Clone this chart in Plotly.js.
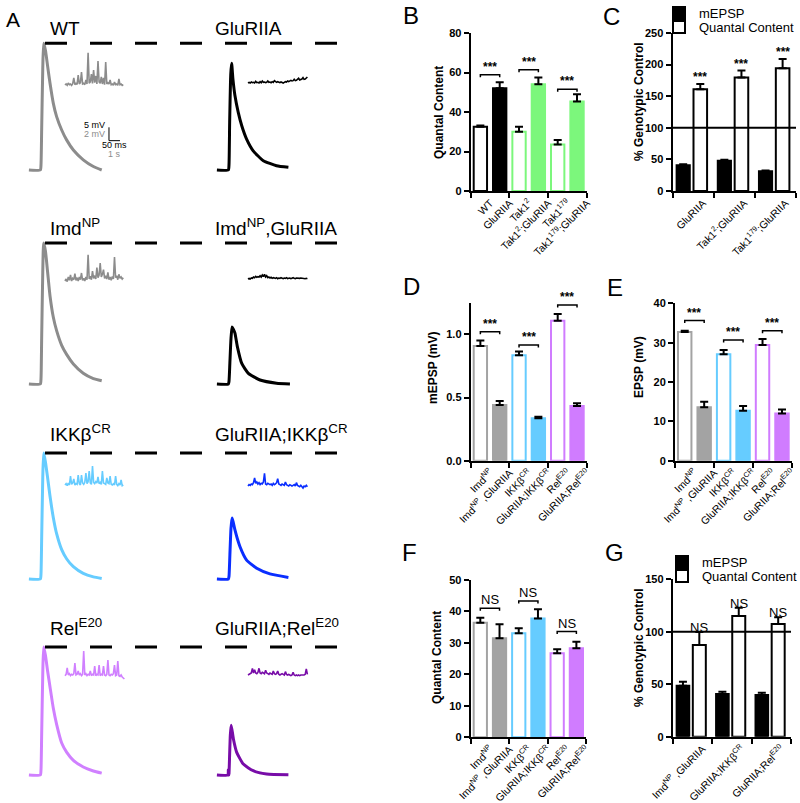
<!DOCTYPE html>
<html><head><meta charset="utf-8">
<script src="https://cdn.plot.ly/plotly-3.0.1.min.js"></script>
<style>html,body{margin:0;padding:0;background:#fff}#chart{width:800px;height:803px}</style>
</head><body><div id="chart"></div>
<script>
// ================= DATA =================
// Panel A – evoked EPSPs (time in ms after stimulus, depolarisation in mV)
const wtEpspT      = [-55,-3,0,3,8,12,20,30,41,56,71,94,117,147,192,238,276];
const wtEpspV      = [0,0,2,15,38,47.5,45,39,32.5,25,20,15,11.2,7.5,3.8,1.3,0];
const glurEpspT    = [-55,-3,0,3,8,12,18,27,42,58,80,110,156,216,270];
const glurEpspV    = [0,0,2,18,36,40,34,27.9,21.6,16.6,11.6,7.2,3.5,1.6,1.0];
const imdEpspT     = [-55,-3,0,3,8,12,20,30,41,56,71,94,117,147,192,238,276];
const imdEpspV     = [0,0,2,17,42,52.9,50,42,33,25,20,14.5,11,7.5,4,2,1.2];
const imdGlurEpspT = [-55,-3,0,4,9,14,20,27,38,58,88,141,216,277];
const imdGlurEpspV = [0,0,1,8,17,21.4,20.5,19.1,14,7.7,4,1.5,0.3,0];
const ikkEpspT     = [-55,-3,0,3,8,12,20,30,41,56,71,94,117,147,192,238,276];
const ikkEpspV     = [0,0,2,15,38,47.2,44,38,31,23,17,11,7.5,4.6,2.1,0.8,0.2];
const glurIkkEpspT = [-55,-3,0,4,9,14,20,27,50,80,126,186,270];
const glurIkkEpspV = [0,0,1,9,19,22.9,21,18.4,12.1,7.1,4,1.9,0.6];
const relEpspT     = [-55,-3,0,3,8,12,20,30,41,56,71,94,117,147,192,238,276];
const relEpspV     = [0,0,2,15,38,48,45,39,33,25,19,12,8.5,5.5,3,1.5,0.7];
const glurRelEpspT = [-55,-5,-3,-1,0,3,6,10,20,35,65,110,171,270];
const glurRelEpspV = [0,0,2,0,0.5,8,15,18.7,13.5,8.5,4.1,1.6,0.4,0.1];

// Panel A – spontaneous mEPSP recordings (mV, one sample every 0.1 s)
const wtMini      = [0.15,0.3,0.1,0.45,0.2,0.3,0.1,0.35,1.2,0.2,0.4,0.25,1.65,0.3,0.5,2.1,0.3,0.4,0.2,0.9,0.3,5.0,0.4,0.6,1.8,0.4,2.4,0.5,1.5,0.3,3.75,0.6,0.4,1.35,0.3,1.2,0.2,3.6,0.3,0.5,0.3,0.9,0.2,0.3,0.1,0.6,0.2,0.3,0.1,1.05,0.2,0.3,0.1,0.2];
const glurMini    = [0,0.1,0,0.15,0.05,0.1,0.0,0.25,0.05,0.1,0.0,0.2,0.05,0.3,0.1,0.15,0.05,0.1,0.3,0.1,0.15,0.05,0.2,0.1,0.35,0.15,0.1,0.2,0.1,0.05,0.15,0.1,0.0,0.1,0.2,0.15,0.3,0.2,0.25,0.4,0.3,0.35,0.55,0.35,0.4,0.5,0.7,0.45,0.5,0.6,0.8,0.55,0.6,0.7,0.9];
const imdMini     = [0.3,0.6,0.2,0.9,0.4,1.2,0.3,0.7,0.5,1.4,0.4,0.8,0.3,0.9,0.5,1.5,0.4,0.7,0.3,0.9,0.5,4.25,0.6,1.0,0.5,1.8,0.7,1.1,0.6,2.3,0.8,1.2,3.0,0.9,1.3,2.0,0.7,1.1,0.6,1.6,0.5,0.9,0.4,1.0,0.6,3.9,0.8,1.1,0.5,1.3,0.7,0.9,0.6,0.8];
const imdGlurMini = [0,0.1,0,0.15,0.1,0.3,0.2,0.4,0.25,0.35,0.3,0.5,0.3,0.6,0.35,0.7,0.3,0.5,0.2,0.3,0.15,0.25,0.1,0.2,0.15,0.1,0.2,0.05,0.15,0.1,0.2,0.1,0.05,0.15,0.1,0.2,0.05,0.1,0.15,0.05,0.1,0.2,0.1,0.05,0.15,0.1,0.05,0.1,0.15,0.1,0.05,0.1,0.05,0.1,0.05];
const ikkMini     = [0.3,0.5,0.2,0.6,0.3,1.65,0.4,0.6,1.2,0.3,0.5,0.4,1.8,0.5,0.3,1.8,0.6,0.4,0.7,2.1,0.5,0.8,2.4,0.6,0.4,3.15,0.7,0.5,0.8,0.6,1.5,0.5,0.7,0.4,2.4,0.6,0.5,0.4,1.35,0.6,0.5,1.65,0.4,0.3,0.5,0.3,1.65,0.4,0.2,0.5,0.3,1.05,0.2,0.3];
const glurIkkMini = [0,0.2,0.1,0.3,0.2,0.5,1.2,0.4,0.6,0.3,0.5,0.2,0.4,0.3,0.6,1.9,0.3,0.2,0.4,0.3,0.2,0.3,0.1,0.4,0.2,0.3,0.5,1.1,0.3,0.2,0.1,0.3,0.2,0.1,0.6,0.2,0.1,0.0,0.2,0.1,0.0,0.1,0.2,0.0,0.5,0.1,0.0,-0.1,0.1,-0.2,-0.3,0.0,-0.1,0.1,-0.1];
const relMini     = [0.2,0.4,1.35,0.3,0.5,0.2,0.4,0.3,0.5,2.1,0.3,0.4,0.9,0.3,0.5,0.2,0.4,3.9,0.3,0.5,0.2,0.4,0.3,0.9,0.2,0.4,0.3,1.65,0.2,0.4,0.3,1.8,0.2,0.4,0.3,1.65,0.3,0.2,0.4,2.55,0.3,0.2,0.4,0.3,0.5,1.8,0.2,0.3,2.4,0.2,0.1,0.3,0.0,-0.2,-0.3];
const glurRelMini = [0,0.1,0.2,0.3,1.0,0.3,0.8,0.3,0.2,0.4,1.0,0.3,0.2,0.4,0.3,0.2,0.7,0.3,0.2,0.1,0.3,0.2,0.1,0.6,0.2,0.1,0.2,0.6,0.1,0.0,0.1,0.2,0.1,0.0,0.5,0.1,0.0,0.1,0.0,-0.1,0.0,0.4,0.0,-0.1,0.0,-0.1,0.0,-0.1,0.0,0.0,-0.1,0.0,0.1,0.9,0.1];

const traceLabels = ['WT','GluRIIA','Imd<sup>NP</sup>','Imd<sup>NP</sup>,GluRIIA','IKKβ<sup>CR</sup>','GluRIIA;IKKβ<sup>CR</sup>','Rel<sup>E20</sup>','GluRIIA;Rel<sup>E20</sup>'];
// scale bar: 5 mV / 50 ms (evoked) and 2 mV / 1 s (minis)
const scaleBarT = [309,309,359];
const scaleBarV = [16,11,11];

// Panel B – quantal content
const catsB   = ['WT','GluRIIA','Tak1<sup>2</sup>','Tak1<sup>2</sup>;GluRIIA','Tak1<sup>179</sup>','Tak1<sup>179</sup>;GluRIIA'];
const qcB     = [32.5,52.0,30.0,54.1,23.6,45.3];
const qcBErr  = [0.7,3.1,2.5,3.4,2.2,3.7];
const sigBY   = [58.8,61.4,51.5];

// Panel C – % genotypic control
const catsC    = ['GluRIIA','Tak1<sup>2</sup>;GluRIIA','Tak1<sup>179</sup>;GluRIIA'];
const mepspC   = [40.8,47.7,31.3];
const mepspCErr= [1.6,1.6,1.0];
const qcC      = [161,179.6,194.4];
const qcCErr   = [8.5,11,14.3];

// Panels D–F – NF-kB pathway genotypes
const catsDEF  = ['Imd<sup>NP</sup>','Imd<sup>NP</sup> ,GluRIIA','IKKβ<sup>CR</sup>','GluRIIA;IKKβ<sup>CR</sup>','Rel<sup>E20</sup>','GluRIIA;Rel<sup>E20</sup>'];
const mepspD   = [0.908,0.44,0.834,0.335,1.108,0.433];
const mepspDErr= [0.042,0.032,0.029,0.013,0.053,0.021];
const sigDY    = [1.021,0.916,1.232];
const epspE    = [32.7,13.56,27.03,12.7,29.4,12.0];
const epspEErr = [0.35,1.44,1.1,1.2,1.5,1.0];
const sigEY    = [35.6,30.7,33.0];
const qcF      = [36.4,31.5,33.05,37.8,26.7,28.3];
const qcFErr   = [1.6,4.4,1.6,2.9,1.3,2.1];
const sigFY    = [41.0,43.3,33.6];

// Panel G – % genotypic control
const catsG    = ['Imd<sup>NP</sup> ,GluRIIA','GluRIIA;IKKβ<sup>CR</sup>','GluRIIA;Rel<sup>E20</sup>'];
const mepspG   = [48.6,40.7,39.7];
const mepspGErr= [3.8,2.2,2.2];
const qcG      = [87.4,115,107.4];
const qcGErr   = [12.4,8,6.4];

// ================= STYLE / LAYOUT =================
const W=800,H=803;
const FONT='"Liberation Sans", Arial, sans-serif';
const GRAY='#A3A3A3', GREEN='#7CF77C', CYAN='#66CCFF', VIOLET='#D07CFF';
const traces=[];
function legendAt(xPx,yPx){
  return {x:xPx/W,y:1-yPx/H,xanchor:'left',yanchor:'middle',font:{size:13,family:FONT},
          bgcolor:'rgba(0,0,0,0)',borderwidth:0,tracegroupgap:0,itemwidth:30};
}
const layout={width:W,height:H,margin:{l:0,r:0,t:0,b:0,autoexpand:false},paper_bgcolor:'#fff',plot_bgcolor:'rgba(0,0,0,0)',
  barmode:'overlay',showlegend:true,annotations:[],shapes:[],font:{family:FONT,color:'#000'},
  legend:legendAt(659,13), legend2:legendAt(659,27),
  legend3:legendAt(662,562), legend4:legendAt(662,576)
};
let axN=0;
function newAxes(xPx,yPx,xo,yo){
  axN++;
  const xk=axN===1?'xaxis':'xaxis'+axN, yk=axN===1?'yaxis':'yaxis'+axN;
  const xid=axN===1?'x':'x'+axN, yid=axN===1?'y':'y'+axN;
  layout[xk]=Object.assign({domain:[xPx[0]/W,xPx[1]/W],anchor:yid,fixedrange:true},xo);
  layout[yk]=Object.assign({domain:[1-yPx[1]/H,1-yPx[0]/H],anchor:xid,fixedrange:true},yo);
  return {x:xid,y:yid};
}
function traceAxes(ox,oy,sx,sy,xr,yr){
  return newAxes([ox+xr[0]*sx,ox+xr[1]*sx],[oy-yr[1]*sy,oy-yr[0]*sy],
    {visible:false,range:xr},{visible:false,range:yr});
}

// ---- Panel A ----
const cellData=[
  {t:wtEpspT,v:wtEpspV,mini:wtMini,color:'#8C8C8C'},
  {t:glurEpspT,v:glurEpspV,mini:glurMini,color:'#000000'},
  {t:imdEpspT,v:imdEpspV,mini:imdMini,color:'#8C8C8C'},
  {t:imdGlurEpspT,v:imdGlurEpspV,mini:imdGlurMini,color:'#000000'},
  {t:ikkEpspT,v:ikkEpspV,mini:ikkMini,color:'#66CCFF'},
  {t:glurIkkEpspT,v:glurIkkEpspV,mini:glurIkkMini,color:'#0A2EFF'},
  {t:relEpspT,v:relEpspV,mini:relMini,color:'#D080FF'},
  {t:glurRelEpspT,v:glurRelEpspV,mini:glurRelMini,color:'#780CA8'}
];
const rowBase=[170,384,579,775];
const miniBase=[[86,83],[283,279],[487,486],[677,675]];
const labelY=[28,227,433,627];
const epspOx=[41,229], miniOx=[65,248], labelX=[48,213];
const SXE=0.22, SYE=2.667, SXM=11, SYM=6.667;
const epspAx=[];
cellData.forEach((c,k)=>{
  const r=Math.floor(k/2), col=k%2;
  const ea=traceAxes(epspOx[col],rowBase[r],SXE,SYE,[-60,370],[-3,56]);
  epspAx.push(ea);
  traces.push({type:'scatter',mode:'lines',x:c.t,y:c.v,xaxis:ea.x,yaxis:ea.y,
    line:{color:c.color,width:3,shape:'spline',smoothing:0.5},showlegend:false,hoverinfo:'skip'});
  const ma=traceAxes(miniOx[col],miniBase[r][col],SXM,SYM,[-0.2,6],[-1.5,6]);
  traces.push({type:'scatter',mode:'lines',y:c.mini,x0:0,dx:0.1,xaxis:ma.x,yaxis:ma.y,
    line:{color:c.color,width:1.6},showlegend:false,hoverinfo:'skip'});
  layout.annotations.push({xref:'paper',yref:'paper',x:labelX[col]/W,y:1-labelY[r]/H,xanchor:'left',yanchor:'middle',
    text:traceLabels[k],showarrow:false,font:{size:19,family:FONT}});
  if(col===0){
    layout.shapes.push({type:'line',xref:'paper',x0:45/W,x1:337/W,yref:ea.y,y0:Math.max(...c.v),y1:Math.max(...c.v),
      line:{color:'#000',width:3,dash:'22px,23px'}});
  }
});
// scale bar in WT evoked-trace coordinates
traces.push({type:'scatter',mode:'lines',x:scaleBarT,y:scaleBarV,xaxis:epspAx[0].x,yaxis:epspAx[0].y,
  line:{color:'#000',width:1},showlegend:false,hoverinfo:'skip'});
[['5 mV',298,16.9,'right','#000'],['2 mV',298,13.5,'right','#8C8C8C'],['50 ms',334,9.5,'center','#000'],['1 s',334,5.9,'center','#8C8C8C']]
 .forEach(a=>layout.annotations.push({xref:epspAx[0].x,yref:epspAx[0].y,x:a[1],y:a[2],xanchor:a[3],yanchor:'middle',
   text:a[0],showarrow:false,font:{size:9,color:a[4],family:FONT}}));

// ---- Bar panels ----
function barAxes(xPx,yPx,n,ticktext,minorVals,yrange,dtick,tickformat,ytitle,titlePos){
  const ax=newAxes(xPx,yPx,
    {range:[-0.5,n-0.5],showline:true,linewidth:2,linecolor:'#000',ticks:'',tickmode:'array',
     tickvals:ticktext.map((_,i)=>i),ticktext:ticktext,tickangle:-45,tickfont:{size:10.5,family:FONT},
     ticklabelshift:10,showgrid:false,zeroline:false,
     minor:{tickmode:'array',tickvals:minorVals,ticks:'outside',ticklen:5,tickwidth:2,tickcolor:'#000',showgrid:false}},
    {range:yrange,showline:true,linewidth:2,linecolor:'#000',ticks:'outside',ticklen:5,tickwidth:2,tickcolor:'#000',
     tick0:0,dtick:dtick,tickformat:tickformat,tickfont:{size:11,family:FONT,weight:'bold'},showgrid:false,zeroline:false});
  // y-axis title, rotated, beside the tick labels
  layout.annotations.push({xref:'paper',yref:'paper',x:titlePos[0]/W,y:1-titlePos[1]/H,xanchor:'center',yanchor:'middle',
    textangle:-90,text:ytitle,showarrow:false,font:{size:12,family:FONT,weight:'bold'}});
  return ax;
}
function singleBars(ax,vals,errs,fills,lines){
  traces.push({type:'bar',x:vals.map((_,i)=>i),y:vals,width:0.69,xaxis:ax.x,yaxis:ax.y,
    marker:{color:fills,line:{color:lines,width:2}},
    error_y:{type:'data',array:errs,arrayminus:errs.map(()=>0),symmetric:false,color:'#000',thickness:2,width:4},
    showlegend:false,hoverinfo:'skip'});
}
function brackets(ax,ys,label,bold,dropPx,yrange,hPx){
  const d=(yrange[1]-yrange[0])*dropPx/hPx;
  const xs=[],yy=[];
  ys.forEach((h,p)=>{const i=2*p,j=2*p+1; xs.push(i,i,j,j,null); yy.push(h-d,h,h,h-d,null);
    layout.annotations.push({xref:ax.x,yref:ax.y,x:(i+j)/2,y:h,yanchor:'bottom',xanchor:'center',showarrow:false,
      text:label,yshift:-1,font:{size:bold?12:13,family:FONT,weight:bold?'bold':'normal'}});});
  traces.push({type:'scatter',mode:'lines',x:xs,y:yy,xaxis:ax.x,yaxis:ax.y,line:{color:'#000',width:1.5},
    showlegend:false,hoverinfo:'skip',connectgaps:false});
}
function groupedBars(ax,m,mErr,q,qErr,legM,legQ,mark,bold,markShift){
  traces.push({type:'bar',name:'mEPSP',x:m.map((_,i)=>i),y:m,offset:-0.4,width:0.32,xaxis:ax.x,yaxis:ax.y,
    marker:{color:'#000',line:{color:'#000',width:2}},legend:legM,
    error_y:{type:'data',array:mErr,arrayminus:mErr.map(()=>0),symmetric:false,color:'#000',thickness:2,width:4},hoverinfo:'skip'});
  traces.push({type:'bar',name:'Quantal Content',x:q.map((_,i)=>i),y:q,offset:0.01,width:0.33,xaxis:ax.x,yaxis:ax.y,
    marker:{color:'#fff',line:{color:'#000',width:2}},legend:legQ,
    error_y:{type:'data',array:qErr,arrayminus:qErr.map(()=>0),symmetric:false,color:'#000',thickness:2,width:4},hoverinfo:'skip'});
  layout.shapes.push({type:'line',xref:ax.x+' domain',x0:0,x1:1,yref:ax.y,y0:100,y1:100,layer:'above',line:{color:'#000',width:2}});
  q.forEach((v,i)=>layout.annotations.push({xref:ax.x,yref:ax.y,x:i+0.175,y:v+qErr[i],yanchor:'bottom',showarrow:false,
    text:mark,yshift:markShift,font:{size:bold?12:13,family:FONT,weight:bold?'bold':'normal'}}));
}

// B
const axB=barAxes([470.7,586.7],[33,191],6,catsB,[-0.5,1.5,3.5,5.5],[0,80],20,'','Quantal Content',[439,112]);
singleBars(axB,qcB,qcBErr,['#fff','#000','#fff',GREEN,'#fff',GREEN],['#000','#000',GREEN,GREEN,GREEN,GREEN]);
brackets(axB,sigBY,'***',true,2.5,[0,80],158);
// C
const axC=barAxes([672.5,796],[33,191],3,catsC,[-0.5,0.5,1.5,2.5],[0,250],50,'','% Genotypic Control',[639,102]);
groupedBars(axC,mepspC,mepspCErr,qcC,qcCErr,'legend','legend2','***',true,-2);
// D
const fillDEF=['#fff',GRAY,'#fff',CYAN,'#fff',VIOLET], lineDEF=[GRAY,GRAY,CYAN,CYAN,VIOLET,VIOLET];
const axD=barAxes([470.7,586.7],[302.7,460.7],6,catsDEF,[-0.5,1.5,3.5,5.5],[0,1.25],0.5,'.1f','mEPSP (mV)',[433,368]);
singleBars(axD,mepspD,mepspDErr,fillDEF,lineDEF);
brackets(axD,sigDY,'***',true,2.5,[0,1.25],158);
// E
const axE=barAxes([675,791.7],[303.3,460.7],6,catsDEF,[-0.5,1.5,3.5,5.5],[0,40],10,'','EPSP (mV)',[639,367]);
singleBars(axE,epspE,epspEErr,fillDEF,lineDEF);
brackets(axE,sigEY,'***',true,2.5,[0,40],157);
// F
const axF=barAxes([470.7,586],[580,737.3],6,catsDEF,[-0.5,1.5,3.5,5.5],[0,50],10,'','Quantal Content',[437,658]);
singleBars(axF,qcF,qcFErr,fillDEF,lineDEF);
brackets(axF,sigFY,'NS',false,2.5,[0,50],157);
// G
const axG=barAxes([672.7,791],[579.3,736.7],3,catsG,[-0.5,0.5,1.5,2.5],[0,150],50,'','% Genotypic Control',[639,648]);
groupedBars(axG,mepspG,mepspGErr,qcG,qcGErr,'legend3','legend4','NS',false,-5);

// panel letters
[['A',13,20,21],['B',411,16,24],['C',611,17,24],['D',411,286,24],['E',615,287,24],['F',410,552,24],['G',614,552,24]]
 .forEach(p=>layout.annotations.push({xref:'paper',yref:'paper',x:p[1]/W,y:1-p[2]/H,xanchor:'center',yanchor:'middle',
   text:p[0],showarrow:false,font:{size:p[3],family:FONT}}));

Plotly.newPlot('chart',traces,layout,{staticPlot:true,displayModeBar:false});
</script></body></html>
